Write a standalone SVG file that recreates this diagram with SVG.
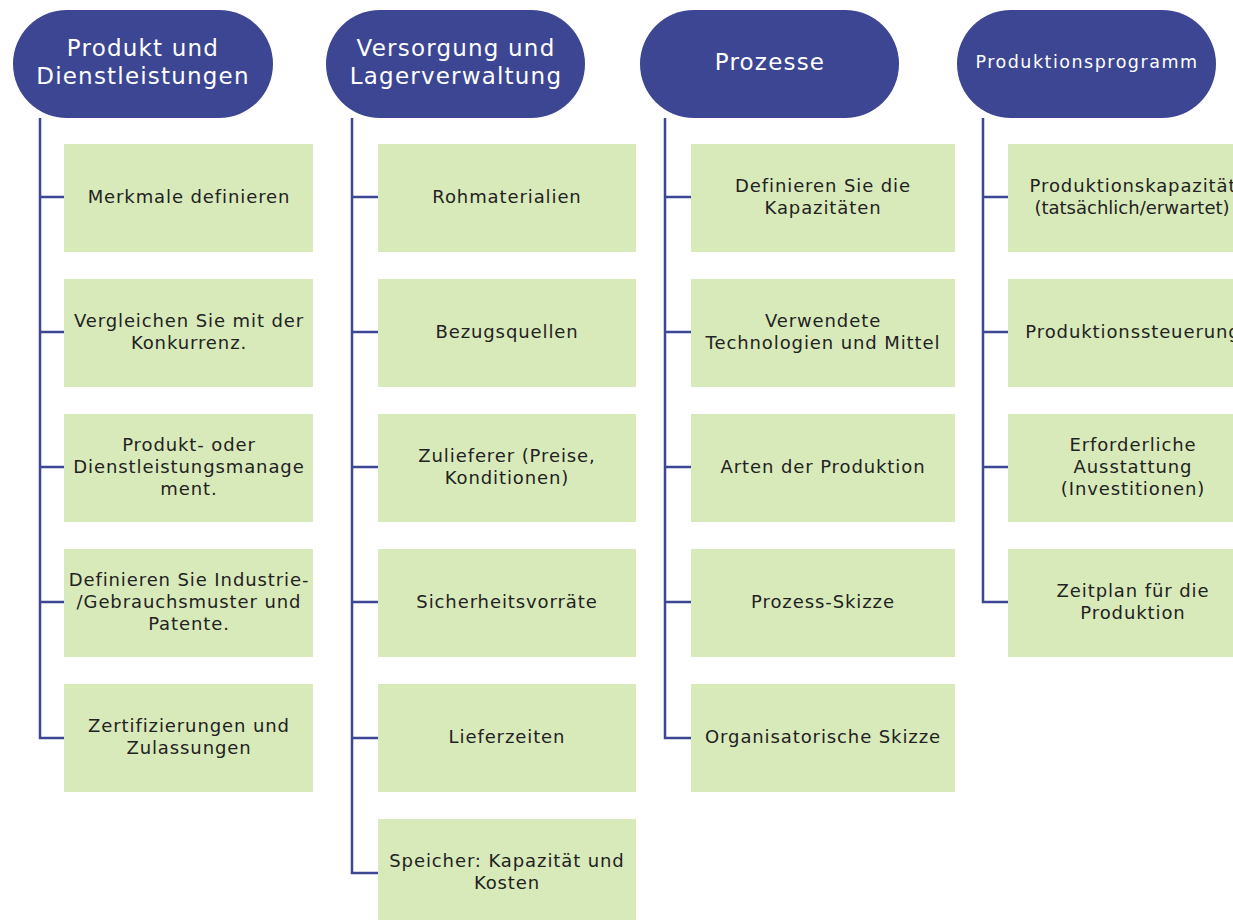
<svg xmlns="http://www.w3.org/2000/svg" width="1233" height="920" viewBox="0 0 1233 920">
<style>
.hd{fill:#3c4692}
.bx{fill:#d9eaba}
.ht{fill:#fff;font-family:"DejaVu Sans",sans-serif;font-size:23px;letter-spacing:1.2px;text-anchor:middle}
.bt{fill:#222;font-family:"DejaVu Sans",sans-serif;font-size:18px;letter-spacing:0.9px;text-anchor:middle}
.ln{fill:none;stroke:#3c4692;stroke-width:2.5}
</style>
<rect width="1233" height="920" fill="#fff"/>
<g id="connectors">
<path class="ln" d="M40 118V738H64M40 197H64M40 332H64M40 467H64M40 602H64"/>
<path class="ln" d="M352 118V873H378M352 197H378M352 332H378M352 467H378M352 602H378M352 738H378"/>
<path class="ln" d="M665 118V738H691M665 197H691M665 332H691M665 467H691M665 602H691"/>
<path class="ln" d="M983 118V602H1008M983 197H1008M983 332H1008M983 467H1008"/>
</g>
<g id="h1"><rect class="hd" x="13" y="10" width="260" height="108" rx="54"/><text class="ht" x="143" y="56">Produkt und</text><text class="ht" x="143" y="84">Dienstleistungen</text></g>
<g id="h2"><rect class="hd" x="326" y="10" width="259" height="108" rx="54"/><text class="ht" x="456" y="56">Versorgung und</text><text class="ht" x="456" y="84">Lagerverwaltung</text></g>
<g id="h3"><rect class="hd" x="640" y="10" width="259" height="108" rx="54"/><text class="ht" x="770" y="70">Prozesse</text></g>
<g id="h4"><rect class="hd" x="957" y="10" width="259" height="108" rx="54"/><text class="ht" x="1087" y="68" style="font-size:17.5px;letter-spacing:1.5px">Produktionsprogramm</text></g>

<g id="a1"><rect class="bx" x="64" y="144" width="249" height="108"/><text class="bt" x="189" y="203">Merkmale definieren</text></g>
<g id="a2"><rect class="bx" x="64" y="279" width="249" height="108"/><text class="bt" x="189" y="327">Vergleichen Sie mit der</text><text class="bt" x="189" y="349">Konkurrenz.</text></g>
<g id="a3"><rect class="bx" x="64" y="414" width="249" height="108"/><text class="bt" x="189" y="451">Produkt- oder</text><text class="bt" x="189" y="473">Dienstleistungsmanage</text><text class="bt" x="189" y="495">ment.</text></g>
<g id="a4"><rect class="bx" x="64" y="549" width="249" height="108"/><text class="bt" x="189" y="586">Definieren Sie Industrie-</text><text class="bt" x="189" y="608">/Gebrauchsmuster  und</text><text class="bt" x="189" y="630">Patente.</text></g>
<g id="a5"><rect class="bx" x="64" y="684" width="249" height="108"/><text class="bt" x="189" y="732">Zertifizierungen und</text><text class="bt" x="189" y="754">Zulassungen</text></g>

<g id="b1"><rect class="bx" x="378" y="144" width="258" height="108"/><text class="bt" x="507" y="203">Rohmaterialien</text></g>
<g id="b2"><rect class="bx" x="378" y="279" width="258" height="108"/><text class="bt" x="507" y="338">Bezugsquellen</text></g>
<g id="b3"><rect class="bx" x="378" y="414" width="258" height="108"/><text class="bt" x="507" y="462">Zulieferer (Preise,</text><text class="bt" x="507" y="484">Konditionen)</text></g>
<g id="b4"><rect class="bx" x="378" y="549" width="258" height="108"/><text class="bt" x="507" y="608">Sicherheitsvorräte</text></g>
<g id="b5"><rect class="bx" x="378" y="684" width="258" height="108"/><text class="bt" x="507" y="743">Lieferzeiten</text></g>
<g id="b6"><rect class="bx" x="378" y="819" width="258" height="101"/><text class="bt" x="507" y="867">Speicher: Kapazität und</text><text class="bt" x="507" y="889">Kosten</text></g>

<g id="c1"><rect class="bx" x="691" y="144" width="264" height="108"/><text class="bt" x="823" y="192">Definieren Sie die</text><text class="bt" x="823" y="214">Kapazitäten</text></g>
<g id="c2"><rect class="bx" x="691" y="279" width="264" height="108"/><text class="bt" x="823" y="327">Verwendete</text><text class="bt" x="823" y="349">Technologien und Mittel</text></g>
<g id="c3"><rect class="bx" x="691" y="414" width="264" height="108"/><text class="bt" x="823" y="473">Arten der Produktion</text></g>
<g id="c4"><rect class="bx" x="691" y="549" width="264" height="108"/><text class="bt" x="823" y="608">Prozess-Skizze</text></g>
<g id="c5"><rect class="bx" x="691" y="684" width="264" height="108"/><text class="bt" x="823" y="743">Organisatorische  Skizze</text></g>

<g id="d1"><rect class="bx" x="1008" y="144" width="249" height="108"/><text class="bt" x="1133" y="192">Produktionskapazität</text><text class="bt" x="1132" y="214" style="letter-spacing:0">(tatsächlich/erwartet)</text></g>
<g id="d2"><rect class="bx" x="1008" y="279" width="249" height="108"/><text class="bt" x="1133" y="338">Produktionssteuerung</text></g>
<g id="d3"><rect class="bx" x="1008" y="414" width="249" height="108"/><text class="bt" x="1133" y="451">Erforderliche</text><text class="bt" x="1133" y="473">Ausstattung</text><text class="bt" x="1133" y="495">(Investitionen)</text></g>
<g id="d4"><rect class="bx" x="1008" y="549" width="249" height="108"/><text class="bt" x="1133" y="597">Zeitplan für die</text><text class="bt" x="1133" y="619">Produktion</text></g>
</svg>
